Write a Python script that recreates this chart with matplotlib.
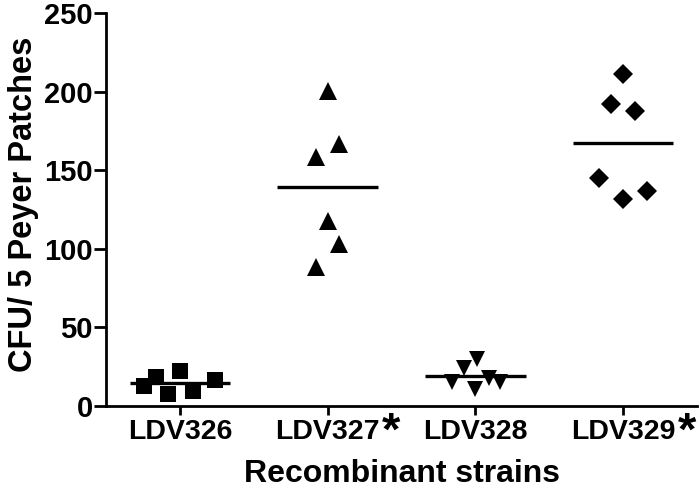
import matplotlib
matplotlib.use("Agg")
import matplotlib.pyplot as plt
import numpy as np
from matplotlib.transforms import blended_transform_factory

categories = ["LDV326", "LDV327", "LDV328", "LDV329"]
starred = [False, True, False, True]

ldv326 = [12.7, 18.2, 7.6, 22.5, 9.7, 16.5]
ldv326_dx = [-0.24, -0.16, -0.08, 0.0, 0.09, 0.24]
ldv327 = [200.6, 166.7, 158.6, 117.9, 102.8, 88.2]
ldv327_dx = [0.0, 0.08, -0.08, 0.0, 0.08, -0.08]
ldv328 = [30.1, 24.2, 18.0, 15.5, 15.5, 11.0]
ldv328_dx = [0.01, -0.08, 0.09, -0.16, 0.17, 0.0]
ldv329 = [211.0, 192.1, 187.9, 144.8, 136.8, 131.7]
ldv329_dx = [0.0, -0.08, 0.08, -0.16, 0.16, 0.0]

series = [ldv326, ldv327, ldv328, ldv329]
offsets = [ldv326_dx, ldv327_dx, ldv328_dx, ldv329_dx]
markers = ["s", "^", "v", "D"]
msizes = [12, 12.5, 11.5, 10.5]

yticks = [0, 50, 100, 150, 200, 250]

plt.rcParams['font.family'] = ['Liberation Sans', 'DejaVu Sans']
plt.rcParams['font.weight'] = 'bold'

fig = plt.figure(figsize=(7.0, 4.94), dpi=100)
ax = fig.add_axes([106/700, 88/494, 591/700, 393/494])

for i, (vals, dx, m, ms) in enumerate(zip(series, offsets, markers, msizes)):
    xs = [i + d for d in dx]
    ax.plot(xs, vals, linestyle='none', marker=m, markersize=ms,
            color='black', markeredgewidth=0)
    mean = np.mean(vals)
    ax.plot([i - 0.34, i + 0.34], [mean, mean], color='black', lw=2.4,
            solid_capstyle='butt')

ax.set_xlim(-0.5, 3.5)
ax.set_ylim(0, 250)
ax.set_xticks(range(len(categories)))
ax.set_xticklabels(categories, fontsize=20.5, fontweight='bold')
ax.set_yticks(yticks)
ax.set_yticklabels([str(t) for t in yticks], fontsize=21, fontweight='bold')

for s in ['top', 'right']:
    ax.spines[s].set_visible(False)
for s in ['left', 'bottom']:
    ax.spines[s].set_linewidth(2.0)
ax.tick_params(axis='x', length=6.5, width=2.0, pad=2.5)
ax.tick_params(axis='y', length=8.5, width=2.0, pad=1)

trans = blended_transform_factory(ax.transData, ax.transAxes)
for i, st in enumerate(starred):
    if st:
        ax.text(i + 0.43, -0.069, "*", transform=trans, fontsize=34,
                fontweight='bold', ha='center', va='center')

ax.set_xlabel("Recombinant strains", fontsize=23, fontweight='bold')
ax.set_ylabel("CFU/ 5 Peyer Patches", fontsize=23.5, fontweight='bold')
ax.xaxis.set_label_coords(0.5, -0.135)
ax.yaxis.set_label_coords(-0.113, 0.513)

fig.savefig("out.png", dpi=100)
